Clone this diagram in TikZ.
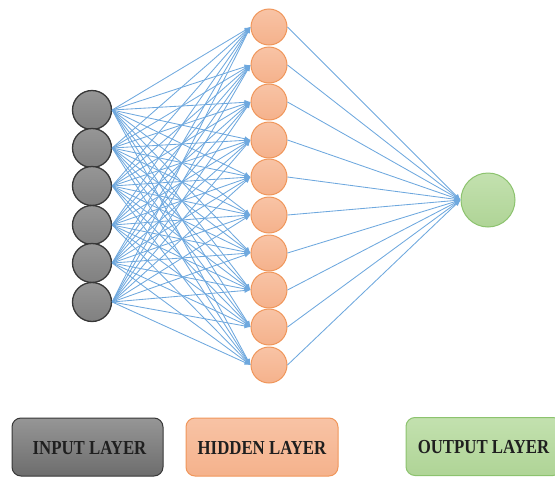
\documentclass[tikz,border=0pt]{standalone}
\usepackage{fontspec}
\setmainfont{Liberation Serif}
\usetikzlibrary{arrows.meta}
\definecolor{edgeblue}{RGB}{110,168,222}
\definecolor{inFill}{RGB}{128,128,128}
\definecolor{inTop}{RGB}{150,150,150}
\definecolor{inBorder}{RGB}{55,55,55}
\definecolor{hidFill}{RGB}{245,178,140}
\definecolor{hidTop}{RGB}{248,195,165}
\definecolor{hidBorder}{RGB}{240,150,90}
\definecolor{outFill}{RGB}{175,212,150}
\definecolor{outTop}{RGB}{195,225,175}
\definecolor{outBorder}{RGB}{140,195,110}
\newcommand{\legtext}[1]{\scalebox{1}[1.18]{#1}}
\tikzset{
  innode/.style={circle,draw=inBorder,line width=1.3pt,top color=inTop,bottom color=inFill,minimum size=39pt,inner sep=0pt},
  hidnode/.style={circle,draw=hidBorder,line width=1pt,top color=hidTop,bottom color=hidFill,minimum size=36pt,inner sep=0pt},
  outnode/.style={circle,draw=outBorder,line width=1pt,top color=outTop,bottom color=outFill,minimum size=54pt,inner sep=0pt},
  conn/.style={draw=edgeblue,line width=0.85pt,-{Latex[length=6pt,width=5pt]}},
  legbox/.style={rounded corners=9pt,line width=1pt,minimum height=58pt,inner sep=0pt},
  legtxt/.style={font=\fontsize{16.8}{20}\selectfont\bfseries,text=black!88,inner sep=0pt},
}
\begin{document}
\begin{tikzpicture}[x=1pt,y=-1pt]
\useasboundingbox (0,0) rectangle (555,477);
% hidden nodes
\foreach \i/\y in {1/27,2/65,3/102,4/140,5/177,6/215,7/253,8/290,9/327,10/365}{
  \node[hidnode] (h\i) at (269,\y) {};
}
% input nodes
\foreach \i/\y in {1/110,2/148,3/186,4/225,5/263,6/302}{
  \node[innode] (i\i) at (92,\y) {};
}
\node[outnode] (o) at (488,200) {};
% connections
\foreach \a in {1,...,6}{
  \foreach \b in {1,...,10}{
    \draw[conn] (i\a.east) -- (h\b.west);
  }
}
\foreach \b in {1,...,10}{
  \draw[conn] (h\b.east) -- (o.west);
}
% legend
\node[legbox,draw=inBorder,top color=inTop,bottom color=inFill!85!black,minimum width=151pt] (lin) at (87.5,447) {};
\node[legtxt] (tin) at (89.5,448) {\legtext{INPUT LAYER}};
\node[legbox,draw=hidBorder,top color=hidTop,bottom color=hidFill,minimum width=152pt] (lhid) at (262,447) {};
\node[legtxt] (thid) at (262,448) {\legtext{HIDDEN LAYER}};
\node[legbox,draw=outBorder,top color=outTop,bottom color=outFill,minimum width=156pt] (lout) at (484,446.5) {};
\node[legtxt] (tout) at (483.5,447) {\legtext{OUTPUT LAYER}};
\end{tikzpicture}
\end{document}
